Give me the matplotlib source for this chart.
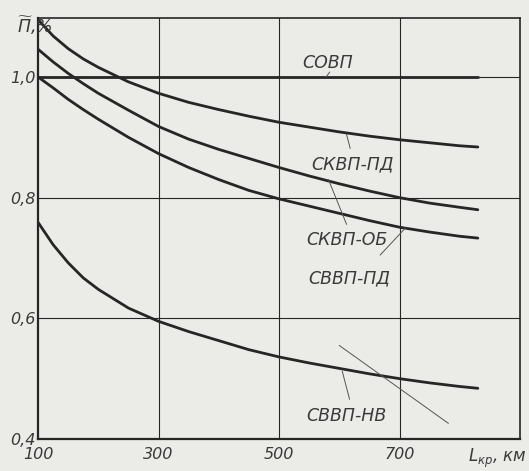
import numpy as np
import matplotlib.pyplot as plt

# values (range L in km, relative value П)
L = [100, 125, 150, 175, 200, 250, 300, 350, 400, 450, 500, 550, 600, 650, 700, 750, 800, 830]

P_skvp_pd = [1.095, 1.068, 1.047, 1.030, 1.016, 0.992, 0.973, 0.958, 0.946, 0.935,
             0.925, 0.917, 0.909, 0.902, 0.896, 0.891, 0.886, 0.884]
P_skvp_ob = [1.046, 1.025, 1.006, 0.989, 0.973, 0.945, 0.918, 0.897, 0.880, 0.865,
             0.850, 0.836, 0.823, 0.811, 0.800, 0.791, 0.784, 0.780]
P_svvp_pd = [1.0, 0.982, 0.963, 0.946, 0.930, 0.900, 0.873, 0.850, 0.830, 0.812,
             0.798, 0.786, 0.774, 0.762, 0.751, 0.743, 0.736, 0.733]
P_svvp_nv = [0.759, 0.722, 0.692, 0.667, 0.648, 0.617, 0.595, 0.578, 0.563, 0.548,
             0.536, 0.526, 0.517, 0.508, 0.500, 0.493, 0.487, 0.484]

L_sovp = [100, 830]
P_sovp = [1.0, 1.0]

x_ticks = [100, 300, 500, 700]
y_ticks = [0.4, 0.6, 0.8, 1.0]
y_tick_labels = ['0,4', '0,6', '0,8', '1,0']

# labels: text, text position, leader start, leader end
labels = [
    ('СОВП', (580, 1.024), (584, 1.008), (578, 1.0)),
    ('СКВП-ПД', (622, 0.855), (618, 0.882), (612, 0.905)),
    ('СКВП-ОБ', (612, 0.73), (612, 0.756), (582, 0.83)),
    ('СВВП-ПД', (617, 0.667), (668, 0.705), (710, 0.750)),
    ('СВВП-НВ', (612, 0.438), (617, 0.466), (605, 0.512)),
]
stray_x = [600, 781]
stray_y = [0.555, 0.426]

plt.rcParams['font.family'] = ['DejaVu Sans']
plt.rcParams['font.style'] = 'italic'
plt.rcParams['mathtext.fontset'] = 'dejavusans'

bg = '#ebebe8'
ink = '#262626'
txt = '#3a3a3a'

fig = plt.figure(figsize=(5.29, 4.71), dpi=100, facecolor=bg)
ax = fig.add_axes([0.072, 0.068, 0.911, 0.894], facecolor=bg)

ax.set_xlim(100, 900)
ax.set_ylim(0.4, 1.098)

for x in x_ticks[1:]:
    ax.axvline(x, color=ink, lw=0.8)
for y in y_ticks[1:]:
    ax.axhline(y, color=ink, lw=0.8)

for ys in [P_skvp_pd, P_skvp_ob, P_svvp_pd, P_svvp_nv]:
    ax.plot(L, ys, color=ink, lw=2.0, solid_capstyle='round')
ax.plot(L_sovp, P_sovp, color=ink, lw=2.0, solid_capstyle='round')

ax.plot(stray_x, stray_y, color='#555555', lw=0.7)

for text, (tx, ty), p0, p1 in labels:
    ax.text(tx, ty, text, fontsize=12.5, color=txt, ha='center', va='center')
    ax.plot([p0[0], p1[0]], [p0[1], p1[1]], color='#555555', lw=0.7)

ax.set_xticks(x_ticks)
ax.set_xticklabels([str(v) for v in x_ticks], fontsize=11.5, color=txt)
ax.set_yticks(y_ticks)
ax.set_yticklabels(y_tick_labels, fontsize=11.5, color=txt)
ax.tick_params(axis='x', length=0, pad=6)
ax.tick_params(axis='y', length=0, pad=2)

for side in ['left', 'bottom']:
    ax.spines[side].set_linewidth(1.6)
for side in ['top', 'right']:
    ax.spines[side].set_linewidth(1.2)
for s in ax.spines.values():
    s.set_color(ink)

fig.text(0.032, 0.946, r'$\mathit{\widetilde{П}}$,%', fontsize=12.5, color=txt,
         ha='left', va='center')
fig.text(0.995, 0.027, r'$\mathit{L}_{\mathit{кр}}$, км', fontsize=12, color=txt,
         ha='right', va='center')

fig.savefig('out.png', dpi=100, facecolor=bg)
